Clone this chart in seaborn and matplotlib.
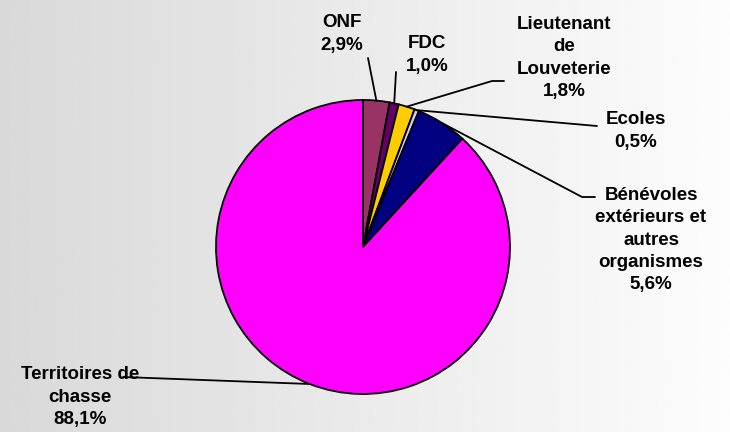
import numpy as np
import matplotlib
matplotlib.use("Agg")
import matplotlib.pyplot as plt
import seaborn as sns

sns.set_theme(style="white")
plt.rcParams['font.family'] = ['Liberation Sans', 'DejaVu Sans']

# data
categories = ["ONF", "FDC", "Lieutenant\nde\nLouveterie", "Ecoles",
              "Bénévoles\nextérieurs et\nautres\norganismes", "Territoires de\nchasse"]
shares = [2.9, 1.0, 1.8, 0.5, 5.6, 88.1]
colors = ["#993366", "#660066", "#FFCC00", "#CCCCFF", "#000080", "#FF00FF"]

# pixel geometry of the pie in the 730x432 picture
W, H = 730, 432
CX, CY, R = 363, 247, 147


def px(x, y):
    # picture pixel -> data units (pie radius = 1)
    return (x - CX) / R, (CY - y) / R


# label centre and leader path (pixels), per category
label_pos = [(342, 34), (427, 55), (564, 58), (636, 131), (651, 240), (80, 397)]
leader_path = [
    [(368, 58)],
    [(396, 72)],
    [(492, 81), (504, 81)],
    [(597, 126)],
    [(582, 197), (595, 197)],
    [(123, 377)],
]

fig = plt.figure(figsize=(7.3, 4.32), dpi=100)
ax = fig.add_axes([0, 0, 1, 1])
x0, y1 = px(0, 0)
x1, y0 = px(W, H)

wedges, _ = ax.pie(shares, colors=colors, startangle=90, counterclock=False,
                   radius=1, wedgeprops=dict(edgecolor="black", linewidth=1.3))
for w in wedges:
    w.set_zorder(2)

# background gradient, grey on the left to white on the right
grad = np.linspace(0.85, 0.99, 256)[None, :]
ax.imshow(grad, cmap="gray", vmin=0, vmax=1, extent=[x0, x1, y0, y1],
          aspect="auto", zorder=0)

for w, cat, val, pos, path in zip(wedges, categories, shares, label_pos, leader_path):
    mid = np.deg2rad((w.theta1 + w.theta2) / 2)
    pts = [(np.cos(mid), np.sin(mid))] + [px(*p) for p in path]
    xs, ys = zip(*pts)
    ax.plot(xs, ys, color="black", lw=1.3, zorder=3)
    tx, ty = px(*pos)
    ax.text(tx, ty, f"{cat}\n{val:.1f}%".replace(".", ","), ha="center", va="center",
            fontsize=13.5, fontweight="bold", linespacing=1.42, color="black", zorder=4)

ax.set_xlim(x0, x1)
ax.set_ylim(y0, y1)
ax.set_aspect("equal")
ax.axis("off")

fig.savefig("out.png", dpi=100)
plt.close(fig)
